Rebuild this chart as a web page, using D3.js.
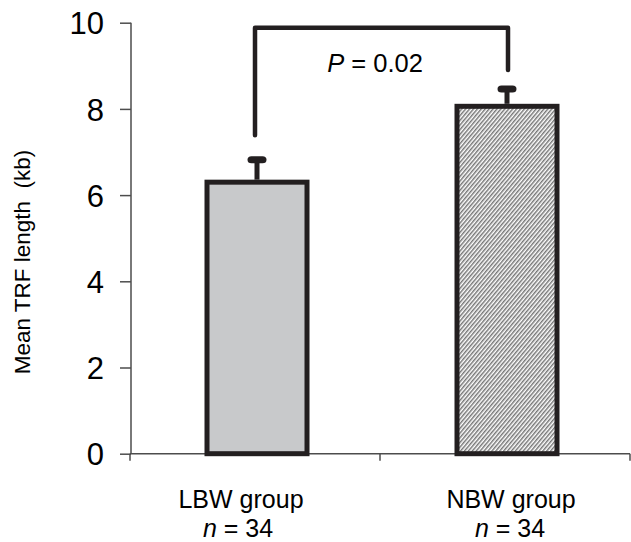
<!DOCTYPE html>
<html>
<head>
<meta charset="utf-8">
<script src="https://cdn.jsdelivr.net/npm/d3@7"></script>
<style>
  html, body { margin: 0; padding: 0; background: #fff; }
  svg { display: block; font-family: "Liberation Sans", Arial, Helvetica, sans-serif; }
</style>
</head>
<body>
<svg id="chart" width="631" height="542"></svg>
<script>
// ---- data ----
const categories = ["LBW group", "NBW group"];
const nLabels = ["34", "34"];
const means = [6.30, 8.06];
const errorTops = [6.82, 8.46];
const yTicks = [0, 2, 4, 6, 8, 10];
const bracketTop = 9.88;
const bracketEnds = [7.39, 8.9];
const pLabel = "0.02";
const yLabel = "Mean TRF length  (kb)";

// ---- layout ----
const svg = d3.select("#chart");
const ink = "#231f20";
const axisColor = "#4d4d4d";

const x = d3.scaleBand().domain(categories).range([130, 630]).padding(0);
const y = d3.scaleLinear().domain([0, 10]).range([453.7, 22.7]);
const barW = x.bandwidth() * 0.4;
const cx = d => x(d) + x.bandwidth() / 2 + 2;

// hatch pattern
const defs = svg.append("defs");
const pat = defs.append("pattern")
  .attr("id", "hatch").attr("patternUnits", "userSpaceOnUse")
  .attr("width", 3).attr("height", 3)
  .attr("patternTransform", "rotate(40)");
pat.append("rect").attr("width", 3).attr("height", 3).attr("fill", "#ffffff");
pat.append("line").attr("x1", 0.75).attr("y1", 0).attr("x2", 0.75).attr("y2", 3)
  .attr("stroke", "#6e6e6e").attr("stroke-width", 1.4);

// y axis
const yAxis = d3.axisLeft(y).tickValues(yTicks).tickSize(11).tickPadding(16).tickFormat(d3.format("d"));
const gy = svg.append("g").attr("transform", "translate(131,0)").call(yAxis);
gy.select(".domain").attr("stroke", axisColor).attr("stroke-width", 1.5)
  .attr("d", `M0,${y(10)}V${y(0)}`);
gy.selectAll(".tick line").attr("stroke", axisColor).attr("stroke-width", 1.5);
gy.selectAll(".tick text").attr("fill", "#000").attr("font-size", 31)
  .attr("font-family", "Liberation Sans, Arial, sans-serif").attr("dy", "0.36em");

// x axis
const gx = svg.append("g");
gx.append("line").attr("x1", x.range()[0]).attr("x2", x.range()[1])
  .attr("y1", y(0)).attr("y2", y(0)).attr("stroke", axisColor).attr("stroke-width", 1.5);
gx.selectAll("line.tk").data(categories.concat([null]))
  .join("line").attr("class", "tk")
  .attr("x1", (d, i) => i < categories.length ? x(d) : x.range()[1])
  .attr("x2", (d, i) => i < categories.length ? x(d) : x.range()[1])
  .attr("y1", y(0)).attr("y2", y(0) + 7)
  .attr("stroke", axisColor).attr("stroke-width", 1.5);

// bars
const fills = ["#c8c9cb", "url(#hatch)"];
svg.selectAll("rect.bar").data(categories).join("rect").attr("class", "bar")
  .attr("x", d => cx(d) - barW / 2)
  .attr("width", barW)
  .attr("y", (d, i) => y(means[i]))
  .attr("height", (d, i) => y(0) - y(means[i]))
  .attr("fill", (d, i) => fills[i])
  .attr("stroke", ink).attr("stroke-width", 5);

// error bars
svg.selectAll("line.err").data(categories).join("line").attr("class", "err")
  .attr("x1", d => cx(d)).attr("x2", d => cx(d))
  .attr("y1", (d, i) => y(means[i]) - 2.5)
  .attr("y2", (d, i) => y(errorTops[i]))
  .attr("stroke", ink).attr("stroke-width", 5);
svg.selectAll("rect.cap").data(categories).join("rect").attr("class", "cap")
  .attr("x", d => cx(d) - 9.5).attr("width", 19)
  .attr("y", (d, i) => y(errorTops[i]) - 3.5).attr("height", 7)
  .attr("rx", 4).attr("fill", ink);

// significance bracket
const bx = categories.map(d => x(d) + x.bandwidth() / 2);
const bracket = d3.line()([
  [bx[0], y(bracketEnds[0])],
  [bx[0], y(bracketTop)],
  [bx[1] + 3, y(bracketTop)],
  [bx[1] + 3, y(bracketEnds[1])]
]);
svg.append("path").attr("d", bracket).attr("fill", "none")
  .attr("stroke", ink).attr("stroke-width", 4.5)
  .attr("stroke-linejoin", "round").attr("stroke-linecap", "round");

const pt = svg.append("text").attr("x", (bx[0] + bx[1]) / 2 - 5).attr("y", 72)
  .attr("text-anchor", "middle").attr("font-size", 25.5).attr("fill", "#000");
pt.append("tspan").attr("font-style", "italic").text("P");
pt.append("tspan").text(" = " + pLabel);

// x labels
const xl = svg.selectAll("g.xl").data(categories).join("g").attr("class", "xl");
xl.append("text").attr("x", (d, i) => x(d) + x.bandwidth() / 2 + (i === 0 ? -14 : 6)).attr("y", 508)
  .attr("text-anchor", "middle").attr("font-size", 25).attr("fill", "#000").text(d => d);
const nt = xl.append("text").attr("x", (d, i) => x(d) + x.bandwidth() / 2 + (i === 0 ? -17 : 5)).attr("y", 537)
  .attr("text-anchor", "middle").attr("font-size", 25).attr("fill", "#000");
nt.append("tspan").attr("font-style", "italic").text("n");
nt.append("tspan").text((d, i) => " = " + nLabels[i]);

// y label
svg.append("text").attr("transform", `translate(30,262) rotate(-90)`)
  .attr("text-anchor", "middle").attr("font-size", 22.5).attr("fill", "#000")
  .attr("xml:space", "preserve").style("white-space", "pre")
  .text(yLabel);
</script>
</body>
</html>
